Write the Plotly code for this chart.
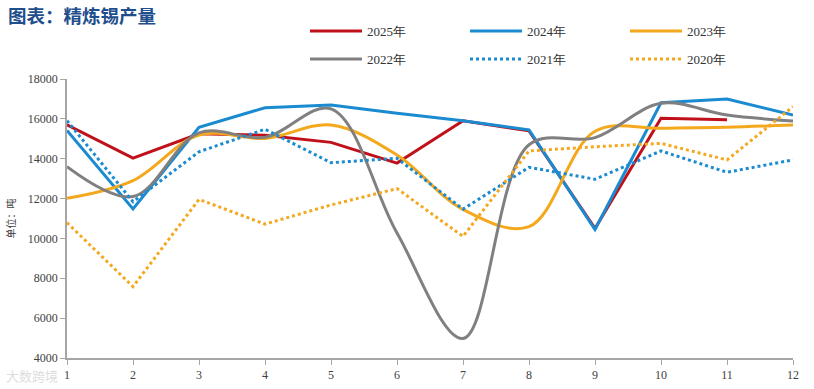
import plotly.graph_objects as go

months = [1, 2, 3, 4, 5, 6, 7, 8, 9, 10, 11, 12]
x_tick_labels = [str(m) for m in months]

y2025 = [15700, 14030, 15250, 15180, 14820, 13780, 15900, 15400, 10500, 16030, 15950]
y2024 = [15420, 11480, 15580, 16560, 16700, 16280, 15910, 15450, 10450, 16810, 17000, 16190]
y2023 = [12010, 12900, 15190, 15020, 15690, 14190, 11450, 10590, 15380, 15530, 15580, 15690]
y2022 = [13600, 12100, 15300, 15070, 16500, 10270, 4980, 14700, 15060, 16780, 16190, 15890]
y2021 = [15910, 11840, 14350, 15480, 13800, 14020, 11470, 13570, 12970, 14390, 13320, 13940]
y2020 = [10790, 7580, 11960, 10720, 11680, 12500, 10100, 14390, 14600, 14770, 13940, 16610]

RED = "#C0111B"
BLUE = "#1A8BD0"
ORANGE = "#F4A81D"
GRAY = "#808080"

fig = go.Figure()

series = [
    ("2025年", y2025, RED, "solid", "linear", "legend"),
    ("2024年", y2024, BLUE, "solid", "linear", "legend"),
    ("2023年", y2023, ORANGE, "solid", "spline", "legend"),
    ("2022年", y2022, GRAY, "solid", "spline", "legend2"),
    ("2021年", y2021, BLUE, "dot", "linear", "legend2"),
    ("2020年", y2020, ORANGE, "dot", "linear", "legend2"),
]

for name, vals, color, dash, shape, lg in series:
    fig.add_trace(go.Scatter(
        x=months[:len(vals)], y=vals, name=name, mode="lines",
        line=dict(color=color, width=3, dash=dash, shape=shape, smoothing=1.0),
        legend=lg,
    ))

legend_common = dict(
    orientation="h", xref="container", yref="container",
    xanchor="left", yanchor="middle",
    entrywidth=93, entrywidthmode="pixels",
    font=dict(family="Liberation Serif, serif", size=13, color="#333333"),
    bgcolor="rgba(0,0,0,0)", itemwidth=52, tracegroupgap=0,
    traceorder="normal", borderwidth=0,
)

fig.update_layout(
    width=814, height=389,
    margin=dict(l=67, r=21, t=79, b=31, autoexpand=False),
    paper_bgcolor="white", plot_bgcolor="white",
    showlegend=True,
    legend=dict(x=305 / 814, y=1 - 31 / 389, **legend_common),
    legend2=dict(x=305 / 814, y=1 - 59 / 389, **legend_common),
    title=dict(
        text="<b>图表：精炼锡产量</b>", x=8 / 814, xref="container", xanchor="left",
        y=1 - 17 / 389, yref="container", yanchor="middle",
        font=dict(family="Noto Sans CJK SC", size=18.5, color="#1F4E8C"),
    ),
    xaxis=dict(
        range=[1, 12], tickmode="array", tickvals=months, ticktext=x_tick_labels,
        showgrid=False, zeroline=False,
        showline=True, linecolor="#A6A6A6", linewidth=1.5,
        ticks="outside", ticklen=5, tickcolor="#A6A6A6",
        tickfont=dict(family="Liberation Serif, serif", size=12, color="#404040"),
    ),
    yaxis=dict(
        range=[4000, 18000], dtick=2000, tick0=4000, tickformat="d",
        showgrid=False, zeroline=False,
        showline=True, linecolor="#A6A6A6", linewidth=1.5,
        ticks="outside", ticklen=5, tickcolor="#A6A6A6",
        tickfont=dict(family="Liberation Serif, serif", size=12, color="#404040"),
        title=dict(text="单位：吨", font=dict(family="Noto Sans CJK SC", size=10, color="#404040"), standoff=10),
    ),
)

fig.add_annotation(
    text="大数跨境", xref="paper", yref="paper", x=(4 - 67) / 726, y=(358 - 375) / 279,
    xanchor="left", yanchor="middle", showarrow=False,
    font=dict(family="Noto Sans CJK SC", size=13, color="#DDDDDD"),
)

fig.write_html("out.html", config={"displayModeBar": False},
               post_script="document.body.style.margin='0';")
